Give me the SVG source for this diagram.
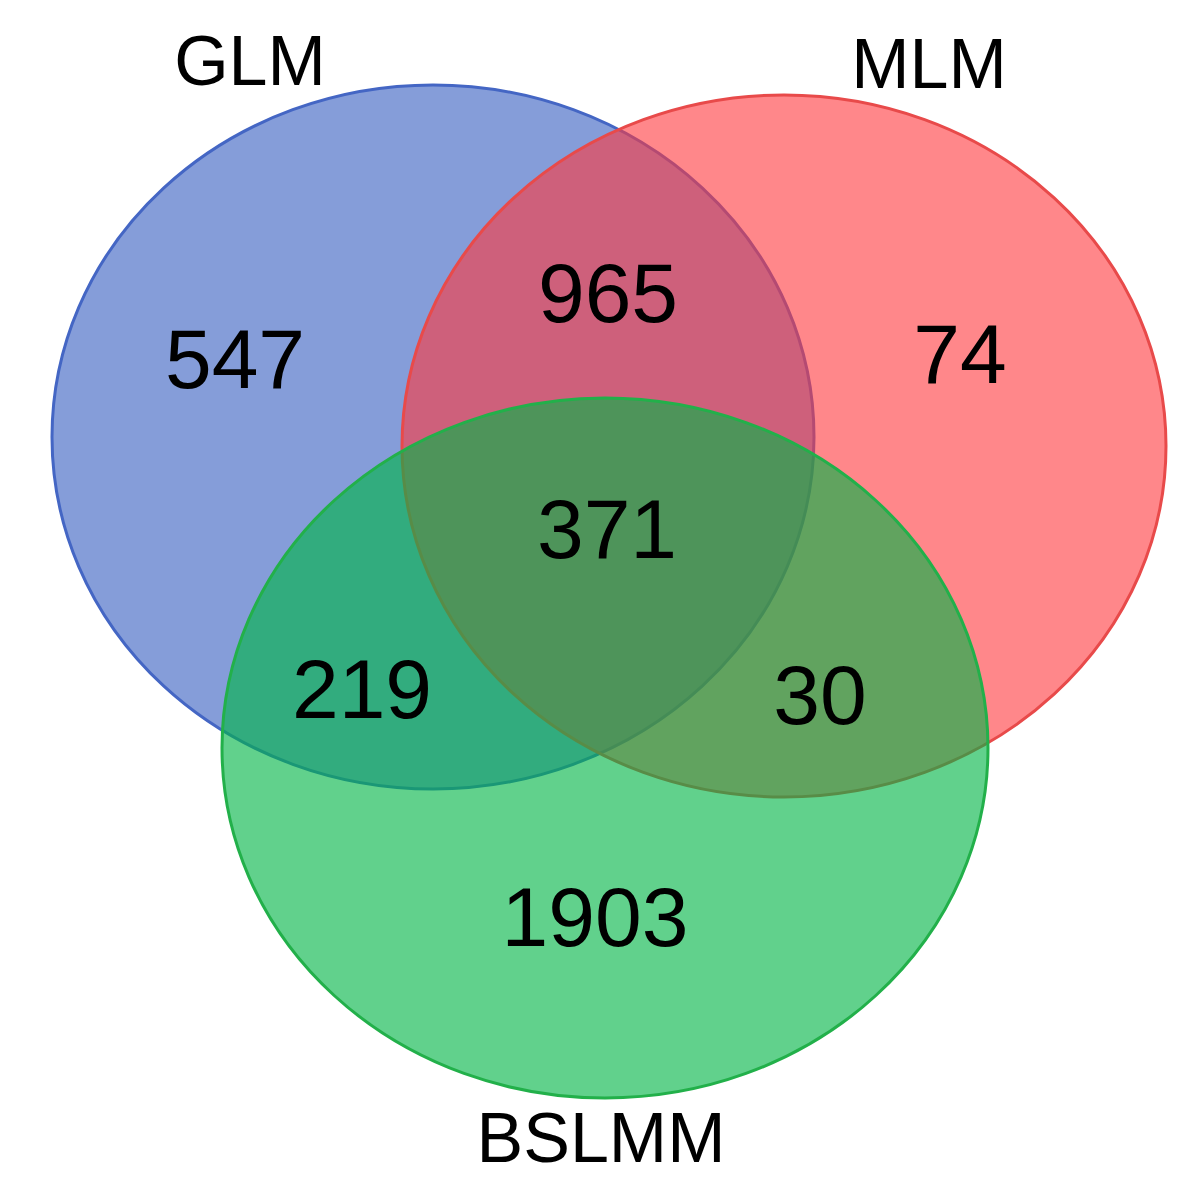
<svg xmlns="http://www.w3.org/2000/svg" width="1201" height="1196" viewBox="0 0 1201 1196">
<style>
text{font-family:"Liberation Sans",Arial,sans-serif;fill:#000;text-anchor:middle}
.n{font-size:84px}.l{font-size:70px}
</style>
<rect width="1201" height="1196" fill="#fff"/>
<g id="GLM"><ellipse cx="433" cy="437" rx="381" ry="352" fill="rgb(68,104,196)" fill-opacity="0.65" stroke="#4466c4" stroke-width="3"/></g>
<g id="MLM"><ellipse cx="784" cy="446" rx="382" ry="351" fill="rgb(255,55,60)" fill-opacity="0.6" stroke="#e84a4a" stroke-width="3"/></g>
<g id="BSLMM"><ellipse cx="605" cy="748" rx="383" ry="350" fill="rgb(0,180,70)" fill-opacity="0.62" stroke="#22b04a" stroke-width="3"/></g>
<g id="labels">
<text class="l" x="250" y="85">GLM</text>
<text class="l" x="929" y="88">MLM</text>
<text class="l" x="601" y="1162">BSLMM</text>
<text class="n" x="235" y="388">547</text>
<text class="n" x="608" y="322">965</text>
<text class="n" x="960" y="383">74</text>
<text class="n" x="607" y="558">371</text>
<text class="n" x="362" y="718">219</text>
<text class="n" x="820" y="724">30</text>
<text class="n" x="595" y="946">1903</text>
</g>
</svg>
